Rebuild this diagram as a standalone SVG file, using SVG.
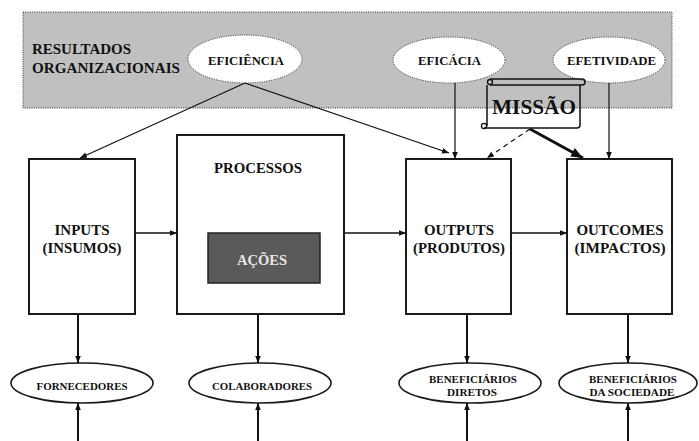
<svg xmlns="http://www.w3.org/2000/svg" width="699" height="441" viewBox="0 0 699 441">
<style>
text{font-family:"Liberation Serif","Times New Roman",serif;font-weight:bold;fill:#111;text-anchor:middle}
.dot{fill:#fff;stroke:#333;stroke-width:1;stroke-dasharray:1 1.3}
.box{fill:#fff;stroke:#1a1a1a;stroke-width:2}
.oval{fill:#fff;stroke:#1a1a1a;stroke-width:1.6}
.ln{stroke:#111;fill:none}
</style>
<defs>
<marker id="a" viewBox="0 0 10 10" refX="10" refY="5" markerWidth="7" markerHeight="7" markerUnits="userSpaceOnUse" orient="auto"><path d="M0,1 L10,5 L0,9 z" fill="#111"/></marker>
<marker id="ab" viewBox="0 0 10 10" refX="10" refY="5" markerWidth="12" markerHeight="12" markerUnits="userSpaceOnUse" orient="auto"><path d="M0,1 L10,5 L0,9 z" fill="#111"/></marker>
</defs>
<g id="band">
<rect x="23" y="12" width="649" height="96" fill="#c0c0c0" stroke="#333" stroke-width="1" stroke-dasharray="1 1.3"/>
<text x="32" y="54" style="text-anchor:start" font-size="14" textLength="99" lengthAdjust="spacingAndGlyphs">RESULTADOS</text>
<text x="32" y="73" style="text-anchor:start" font-size="14" textLength="148" lengthAdjust="spacingAndGlyphs">ORGANIZACIONAIS</text>
</g>
<g id="eficiencia"><ellipse class="dot" cx="245" cy="59" rx="57" ry="24"/><text x="246" y="65" font-size="11.5" textLength="76" lengthAdjust="spacingAndGlyphs">EFICIÊNCIA</text></g>
<g id="eficacia"><ellipse class="dot" cx="449" cy="60" rx="56" ry="23"/><text x="449.5" y="65" font-size="11.5" textLength="63" lengthAdjust="spacingAndGlyphs">EFICÁCIA</text></g>
<g id="efetividade"><ellipse class="dot" cx="609" cy="60" rx="56" ry="23"/><text x="611.5" y="65" font-size="11.5" textLength="89" lengthAdjust="spacingAndGlyphs">EFETIVIDADE</text></g>
<g id="inputs"><rect class="box" x="29" y="159" width="106" height="155"/><text x="82" y="235" font-size="14.5" textLength="55" lengthAdjust="spacingAndGlyphs">INPUTS</text><text x="82" y="253" font-size="14.5" textLength="79" lengthAdjust="spacingAndGlyphs">(INSUMOS)</text></g>
<g id="processos"><rect class="box" x="177" y="135" width="167" height="179"/><text x="258" y="173" font-size="14.5" textLength="88" lengthAdjust="spacingAndGlyphs">PROCESSOS</text></g>
<g id="acoes"><rect x="208" y="233" width="112" height="50" fill="#5a5a5a" stroke="#222" stroke-width="1.5"/><text x="262" y="265" font-size="14.5" style="fill:#e6e6e6" textLength="50" lengthAdjust="spacingAndGlyphs">AÇÕES</text></g>
<g id="outputs"><rect class="box" x="406" y="159" width="105" height="155"/><text x="459" y="235" font-size="14.5" textLength="70" lengthAdjust="spacingAndGlyphs">OUTPUTS</text><text x="459" y="253" font-size="14.5" textLength="92" lengthAdjust="spacingAndGlyphs">(PRODUTOS)</text></g>
<g id="outcomes"><rect class="box" x="567" y="159" width="105" height="155"/><text x="620" y="235" font-size="14.5" textLength="87" lengthAdjust="spacingAndGlyphs">OUTCOMES</text><text x="620" y="253" font-size="14.5" textLength="91" lengthAdjust="spacingAndGlyphs">(IMPACTOS)</text></g>
<g id="missao">
<path d="M490,79 H582 A3,3 0 0 1 582,85 H490" fill="none" stroke="#111" stroke-width="1.5"/>
<circle cx="490" cy="82" r="2.5" fill="none" stroke="#111" stroke-width="1.3"/>
<path d="M487,85 V126 M484,128 H577 Q580,128 580,125 V85" fill="none" stroke="#111" stroke-width="1.5"/>
<circle cx="484" cy="126" r="2.6" fill="none" stroke="#111" stroke-width="1.3"/>
<text x="534" y="114" font-size="22" textLength="84" lengthAdjust="spacingAndGlyphs">MISSÃO</text>
</g>
<g id="fornecedores"><ellipse class="oval" cx="82" cy="383" rx="71" ry="20"/><text x="82" y="390" font-size="11" textLength="91" lengthAdjust="spacingAndGlyphs">FORNECEDORES</text></g>
<g id="colaboradores"><ellipse class="oval" cx="260" cy="383" rx="71" ry="20"/><text x="262" y="390" font-size="11" textLength="100" lengthAdjust="spacingAndGlyphs">COLABORADORES</text></g>
<g id="benef-diretos"><ellipse class="oval" cx="470" cy="383" rx="71" ry="20"/><text x="473" y="383" font-size="10.5" textLength="88" lengthAdjust="spacingAndGlyphs">BENEFICIÁRIOS</text><text x="472" y="396" font-size="10.5" textLength="50" lengthAdjust="spacingAndGlyphs">DIRETOS</text></g>
<g id="benef-sociedade"><ellipse class="oval" cx="628" cy="383" rx="69" ry="20"/><text x="633" y="383" font-size="10.5" textLength="88" lengthAdjust="spacingAndGlyphs">BENEFICIÁRIOS</text><text x="632" y="396" font-size="10.5" textLength="85" lengthAdjust="spacingAndGlyphs">DA SOCIEDADE</text></g>
<g id="connectors" class="ln">
<line x1="245" y1="83" x2="80" y2="158" stroke-width="1.2" marker-end="url(#a)"/>
<line x1="245" y1="83" x2="449" y2="153" stroke-width="1.2" marker-end="url(#a)"/>
<line x1="455" y1="83" x2="455" y2="159" stroke-width="1.2" marker-end="url(#a)"/>
<line x1="609" y1="83" x2="609" y2="159" stroke-width="1.2" marker-end="url(#a)"/>
<line x1="530" y1="129" x2="487" y2="158" stroke-width="1.2" stroke-dasharray="5 4" marker-end="url(#a)"/>
<line x1="530" y1="129" x2="583" y2="158" stroke-width="3" marker-end="url(#ab)"/>
<line x1="135" y1="233" x2="177" y2="233" stroke-width="1.5" marker-end="url(#a)"/>
<line x1="344" y1="233" x2="406" y2="233" stroke-width="1.5" marker-end="url(#a)"/>
<line x1="511" y1="233" x2="567" y2="233" stroke-width="1.5" marker-end="url(#a)"/>
<line x1="78" y1="314" x2="78" y2="363" stroke-width="2" marker-end="url(#a)"/>
<line x1="258" y1="314" x2="258" y2="363" stroke-width="2" marker-end="url(#a)"/>
<line x1="467" y1="314" x2="467" y2="363" stroke-width="2" marker-end="url(#a)"/>
<line x1="628" y1="314" x2="628" y2="363" stroke-width="2" marker-end="url(#a)"/>
<line x1="78" y1="441" x2="78" y2="403" stroke-width="2" marker-end="url(#a)"/>
<line x1="258" y1="441" x2="258" y2="403" stroke-width="2" marker-end="url(#a)"/>
<line x1="467" y1="441" x2="467" y2="403" stroke-width="2" marker-end="url(#a)"/>
<line x1="628" y1="441" x2="628" y2="403" stroke-width="2" marker-end="url(#a)"/>
</g>
</svg>
